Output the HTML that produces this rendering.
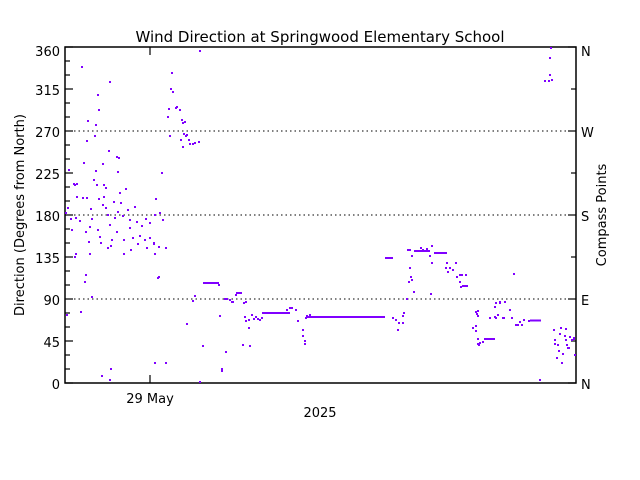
<!DOCTYPE html>
<html><head><style>
body{margin:0;background:#fff;}
svg{display:block;font-family:"DejaVu Sans","Liberation Sans",sans-serif;}
</style></head><body>
<svg id="s" width="640" height="480" viewBox="0 0 640 480" xmlns="http://www.w3.org/2000/svg">
<rect width="640" height="480" fill="#fff"/>
<text x="320" y="42" font-size="15" text-anchor="middle">Wind Direction at Springwood Elementary School</text>
<g stroke="#000" stroke-dasharray="1.5,3" stroke-width="1">
<line x1="65" y1="131" x2="576" y2="131"/><line x1="65" y1="215" x2="576" y2="215"/><line x1="65" y1="299" x2="576" y2="299"/>
</g>
<rect x="65" y="47" width="511" height="336" fill="none" stroke="#000" stroke-width="1.5"/>
<g id="ticks" stroke="#000" stroke-width="1.2"></g>
<g font-size="13" text-anchor="end">
<text x="60" y="56">360</text><text x="60" y="95">315</text><text x="60" y="137">270</text><text x="60" y="221">180</text><text x="60" y="179">225</text><text x="60" y="263">135</text><text x="60" y="305">90</text><text x="60" y="347">45</text><text x="60" y="389">0</text>
</g>
<g font-size="13">
<text x="581" y="56">N</text><text x="581" y="137">W</text><text x="581" y="221">S</text><text x="581" y="305">E</text><text x="581" y="389">N</text>
</g>
<text x="150" y="403" font-size="13" text-anchor="middle">29 May</text>
<text x="320" y="417" font-size="13" text-anchor="middle">2025</text>
<text transform="translate(24,215) rotate(-90)" font-size="13" text-anchor="middle">Direction (Degrees from North)</text>
<text transform="translate(606,215) rotate(-90)" font-size="13" text-anchor="middle">Compass Points</text>
<g id="d" fill="#8000ff"></g>
<g stroke="#8000ff" stroke-width="2">
<line x1="203" y1="283" x2="219" y2="283"/>
<line x1="306" y1="317" x2="385" y2="317"/>
<line x1="434" y1="253" x2="447" y2="253"/>
<line x1="418" y1="251" x2="430" y2="251"/>
<line x1="484" y1="339" x2="495" y2="339"/>
<line x1="530" y1="320.5" x2="541" y2="320.5"/>
<line x1="262" y1="313" x2="290" y2="313"/>
<line x1="385" y1="258" x2="393" y2="258"/>
<line x1="414" y1="251" x2="420" y2="251"/>
</g>
</svg>
<script>
var t=document.getElementById('ticks'),h='';
for(var d=0;d<=360;d+=15){var y=383-d*336/360;var L=(d%45==0)?8:5;h+='<line x1="65" y1="'+y+'" x2="'+(65+L)+'" y2="'+y+'"/>';}
for(var d=0;d<=360;d+=45){var y=383-d*336/360;var L=(d%90==0)?8:5;h+='<line x1="576" y1="'+y+'" x2="'+(576-L)+'" y2="'+y+'"/>';}
h+='<line x1="150" y1="383" x2="150" y2="375"/><line x1="150" y1="47" x2="150" y2="55"/>';
t.innerHTML=h;
var P=[[82,67],[110,82],[98,95],[99,110],[88,121],[96,125],[95,136],[87,141],[109,151],[117,157],[103,164],[69,170],[96,171],[84,163],[119,158],[118,172],[94,180],[74,184],[75,185],[77,184],[97,185],[104,185],[106,188],[77,197],[66,213],[71,219],[76,218],[99,199],[104,197],[126,189],[120,193],[114,202],[121,203],[128,210],[91,209],[103,205],[106,208],[83,198],[87,198],[135,207],[117,232],[68,208],[72,230],[80,221],[90,227],[98,230],[110,225],[115,218],[123,216],[130,220],[137,222],[142,226],[146,219],[150,223],[155,215],[160,213],[163,220],[140,236],[133,238],[124,240],[112,240],[100,237],[86,232],[145,240],[150,238],[154,244],[118,212],[130,228],[108,215],[92,219],
[172,73],[171,89],[173,92],[169,109],[170,136],[168,117],[177,107],[176,108],[180,110],[183,123],[185,122],[182,120],[184,134],[190,144],[187,135],[181,140],[183,147],[189,140],[186,136],[193,144],[195,143],[199,142],[162,173],[156,199],[200,51],
[67,315],[81,312],[85,282],[86,275],[90,254],[101,243],[102,376],[111,369],[75,257],[76,254],[89,242],[108,248],[111,246],[124,254],[131,250],[138,244],[147,248],[154,243],[155,254],[159,247],[166,248],[158,278],[159,277],[110,380],[92,297],[155,363],
[193,301],[195,296],[187,324],[166,363],[200,382],[203,346],[219,285],[220,316],[226,352],[222,369],[222,371],[225,299],[227,299],[230,300],[232,302],[233,302],[236,295],[237,293],[239,293],[241,293],[244,303],[246,302],[243,345],[245,317],[249,328],[246,321],[249,320],[250,346],[252,315],[254,319],[256,317],[258,319],[260,320],[262,318],[287,310],[290,308],[292,308],[296,310],[298,321],[303,330],[303,336],[305,341],[305,344],[306,318],[307,316],[310,315],
[393,318],[396,320],[399,323],[403,323],[398,330],[403,316],[404,313],[407,299],[410,268],[412,256],[411,277],[412,280],[408,250],[410,250],[409,282],[421,248],[423,250],[427,249],[432,246],[430,256],[432,263],[447,263],[446,268],[448,272],[450,268],[456,263],[453,270],[460,275],[457,277],[462,275],[463,286],[465,286],[467,286],[460,282],[461,287],[466,275],[414,292],[431,294],
[473,328],[476,326],[476,331],[478,339],[478,344],[479,345],[476,312],[477,314],[478,316],[478,311],[480,343],[483,342],[495,317],[490,318],[495,307],[496,303],[500,302],[505,302],[510,310],[500,303],[514,274],[503,318],[498,315],[496,318],[504,318],[512,318],[516,325],[518,325],[520,322],[522,325],[524,320],[529,321],
[540,380],[552,80],[545,81],[549,81],[550,75],[550,58],[551,48],[554,330],[555,340],[555,344],[557,358],[559,351],[560,334],[562,363],[563,354],[565,336],[566,340],[567,345],[568,348],[569,348],[566,329],[570,337],[572,340],[574,339],[574,338],[575,355],[558,345],[561,328]];
var s='';P.forEach(function(p){s+='<rect x="'+(p[0]-1)+'" y="'+(p[1]-1)+'" width="2" height="2"/>';});
document.getElementById('d').innerHTML=s;
</script>
</body></html>
